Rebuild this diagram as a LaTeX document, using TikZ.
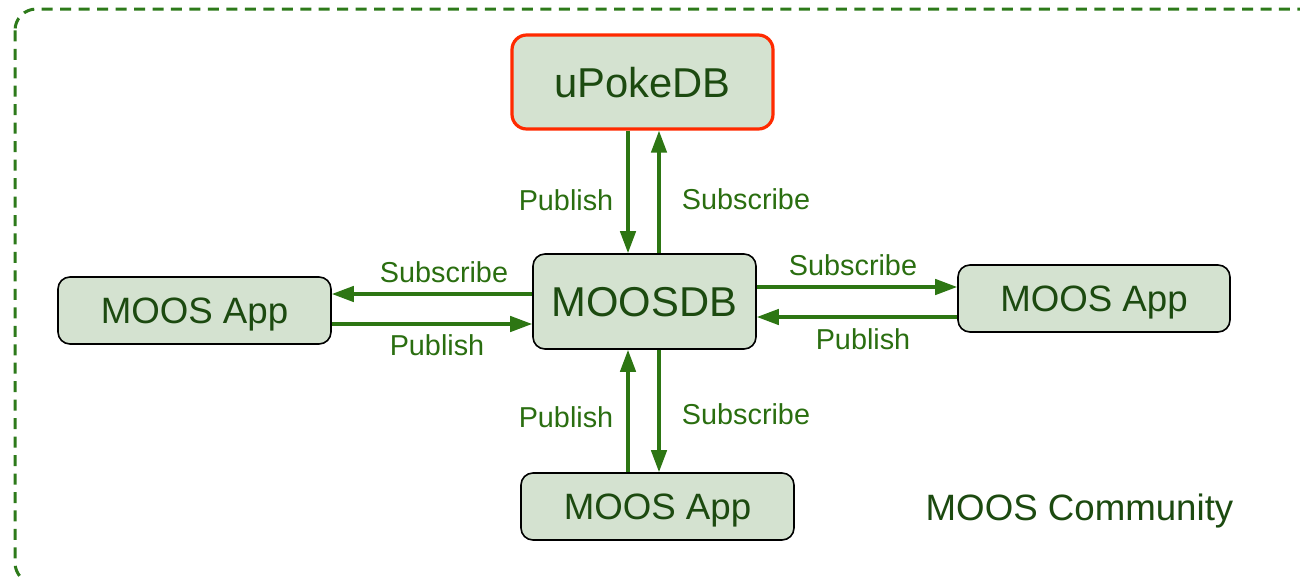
\documentclass[tikz,border=0pt]{standalone}
\usepackage{fontspec}
\setmainfont{Liberation Sans}
\usetikzlibrary{arrows.meta}
\definecolor{boxfill}{RGB}{212,226,208}
\definecolor{boxtext}{RGB}{28,74,16}
\definecolor{flow}{RGB}{45,118,19}
\definecolor{flowtext}{RGB}{42,110,16}
\definecolor{border}{RGB}{45,122,26}
\definecolor{hot}{RGB}{255,42,0}
\tikzset{
  appbox/.style={draw=black, line width=1.2pt, fill=boxfill, rounded corners=9pt,
    text=boxtext, inner sep=0pt, text depth=0pt, font=\fontsize{27.5pt}{32pt}\selectfont},
  dbbox/.style={appbox, font=\fontsize{31.3pt}{36pt}\selectfont},
  flowarrow/.style={draw=flow, line width=2.6pt,
    -{Triangle[length=16.5pt, width=11.5pt]}},
  flowlabel/.style={text=flowtext, inner sep=0pt, font=\fontsize{21.6pt}{25pt}\selectfont},
}
\begin{document}
\begin{tikzpicture}[x=0.75pt, y=-0.75pt]
\useasboundingbox (0,0) rectangle (1300,578);

% community boundary, running off the right and bottom edges
\begin{scope}
  \clip (0,0) rectangle (1300,578);
  \draw[border, line width=2.25pt, dash pattern=on 8.25pt off 5.6pt, rounded corners=16pt]
    (15,9) rectangle (1330,584);
\end{scope}

% processes
\node[dbbox, draw=hot, line width=2.4pt, rounded corners=11pt,
      minimum width=261*0.75pt, minimum height=94*0.75pt] (poke) at (642.5,82) {uPokeDB};
\node[dbbox, minimum width=223*0.75pt, minimum height=95*0.75pt] (db) at (644.5,301.5) {MOOSDB};
\node[appbox, minimum width=273*0.75pt, minimum height=67*0.75pt] (appL) at (194.5,310.5) {MOOS App};
\node[appbox, minimum width=272*0.75pt, minimum height=67*0.75pt] (appR) at (1094,298.5) {MOOS App};
\node[appbox, minimum width=273*0.75pt, minimum height=67*0.75pt] (appB) at (657.5,506.5) {MOOS App};

\node[text=boxtext, inner sep=0pt, text depth=0pt, font=\fontsize{27.5pt}{32pt}\selectfont]
  (community) at (1079.5,507) {MOOS Community};

% lanes for the arrows
\coordinate (laneA) at (628,0);
\coordinate (laneB) at (659,0);
\coordinate (laneLs) at (0,294);
\coordinate (laneLp) at (0,324);
\coordinate (laneRs) at (0,287);
\coordinate (laneRp) at (0,317);

% uPokeDB <-> MOOSDB
\draw[flowarrow] (poke.south -| laneA) -- (db.north -| laneA);
\draw[flowarrow] (db.north -| laneB) -- (poke.south -| laneB);
% left app
\draw[flowarrow] (db.west |- laneLs) -- (appL.east |- laneLs);
\draw[flowarrow] (appL.east |- laneLp) -- (db.west |- laneLp);
% right app
\draw[flowarrow] (db.east |- laneRs) -- (appR.west |- laneRs);
\draw[flowarrow] (appR.west |- laneRp) -- (db.east |- laneRp);
% bottom app
\draw[flowarrow] (appB.north -| laneA) -- (db.south -| laneA);
\draw[flowarrow] (db.south -| laneB) -- (appB.north -| laneB);

% arrow labels
\node[flowlabel] (lt1) at (566,200) {Publish};
\node[flowlabel] (lt2) at (746,199) {Subscribe};
\node[flowlabel] (ll1) at (444,272) {Subscribe};
\node[flowlabel] (ll2) at (437,345) {Publish};
\node[flowlabel] (lr1) at (853,265) {Subscribe};
\node[flowlabel] (lr2) at (863,339) {Publish};
\node[flowlabel] (lb1) at (566,417) {Publish};
\node[flowlabel] (lb2) at (746,414) {Subscribe};
\end{tikzpicture}
\end{document}
